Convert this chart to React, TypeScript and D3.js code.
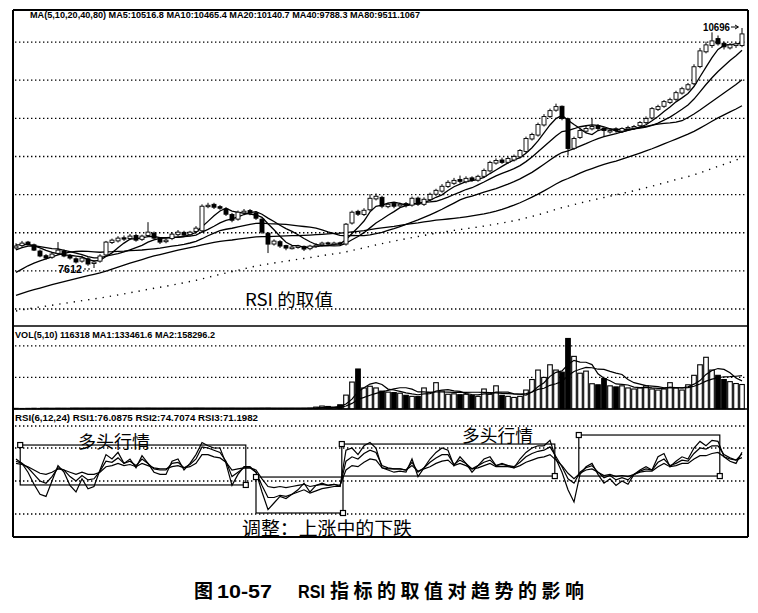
import React from 'react';
import * as d3 from 'd3';

// ---------- DATA ----------
const preCloses = [
  6800,6780,6820,6850,6830,6870,6900,6880,6850,6820,
  6790,6760,6780,6810,6840,6870,6900,6930,6910,6880,
  6850,6830,6860,6890,6920,6900,6870,6840,6820,6850,
  6880,6910,6890,6860,6830,6850,6880,6900,6870,6850,
  6870,6900,6930,6960,6940,6910,6930,6970,7000,6980,
  6950,6930,6960,6990,7020,7000,6970,6950,6980,7010,
  7050,7100,7080,7150,7200,7240,7280,7320,7360,7400,
  7550,7650,7720,7800,7880,7860,7920,7890,7940,7900];

const opens = [
  7870,7900,7945,7910,7830,7770,7750,7800,7830,7770,
  7730,7700,7730,7670,7700,7780,7940,7960,8000,7990,
  8030,7980,8030,8060,7990,7950,7990,8040,8070,8040,
  8080,8090,8400,8430,8400,8370,8300,8240,8320,8350,
  8320,8240,8060,7920,7950,7900,7860,7875,7890,7860,
  7890,7910,7935,7915,7935,7920,8190,8340,8300,8360,
  8500,8520,8400,8440,8410,8440,8420,8510,8430,8490,
  8560,8600,8660,8700,8750,8720,8770,8740,8790,8860,
  8960,9000,8970,9000,9040,9110,9270,9320,9450,9560,
  9640,9690,9530,9150,9290,9370,9400,9440,9410,9360,
  9400,9370,9400,9410,9440,9480,9540,9650,9690,9740,
  9780,9860,9910,9980,10200,10390,10470,10560,10500,10440,
  10470,10470];

const highs = [
  7930,7960,7960,7925,7850,7790,7820,7945,7850,7790,
  7750,7770,7750,7710,7790,7960,7990,8020,8030,8050,
  8050,8040,8201,8080,8010,7990,8070,8100,8090,8090,
  8150,8430,8450,8450,8420,8390,8320,8350,8370,8370,
  8340,8250,8070,7980,7970,7910,7900,7910,7900,7910,
  7930,7950,7950,7950,7950,8190,8350,8360,8380,8560,
  8570,8540,8450,8450,8450,8460,8530,8530,8520,8580,
  8630,8690,8740,8770,8800,8790,8790,8810,8890,8990,
  9020,9030,9040,9070,9140,9300,9350,9480,9590,9660,
  9724,9700,9540,9300,9400,9440,9530,9460,9420,9400,
  9420,9420,9440,9450,9500,9560,9680,9710,9770,9800,
  9890,9940,9990,10230,10440,10520,10640,10600,10520,10500,
  10510,10696];

const lows = [
  7850,7880,7900,7830,7750,7720,7730,7780,7750,7720,
  7670,7680,7640,7612,7680,7770,7920,7940,7960,7970,
  7950,7960,8010,7980,7920,7930,7970,8020,8010,8020,
  8060,8070,8380,8370,8360,8280,8200,8220,8300,8290,
  8230,8050,7804,7900,7870,7840,7850,7860,7830,7840,
  7870,7890,7900,7900,7900,7900,8170,8280,8280,8340,
  8480,8380,8380,8380,8390,8390,8400,8410,8410,8470,
  8540,8580,8640,8680,8700,8700,8720,8720,8770,8840,
  8940,8950,8950,8980,9020,9090,9250,9300,9430,9540,
  9620,9510,9058,9130,9270,9350,9380,9380,9300,9340,
  9350,9350,9380,9390,9420,9460,9520,9630,9670,9720,
  9760,9840,9890,9960,10180,10370,10440,10470,10420,10420,
  10440,10450];

const closes = [
  7894,7932,7919,7842,7766,7740,7791,7842,7766,7740,
  7689,7740,7663,7689,7766,7945,7970,7996,7983,8022,
  7970,8022,8073,7996,7945,7970,8047,8073,8034,8073,
  8124,8406,8418,8393,8380,8303,8226,8329,8342,8316,
  8252,8073,7919,7958,7894,7868,7881,7894,7855,7894,
  7906,7932,7919,7932,7919,8175,8329,8303,8354,8508,
  8534,8406,8431,8406,8431,8418,8508,8431,8495,8559,
  8610,8662,8713,8738,8726,8764,8738,8790,8866,8969,
  8994,8969,9020,9046,9122,9276,9327,9455,9558,9634,
  9686,9532,9148,9276,9378,9404,9430,9404,9378,9378,
  9378,9404,9417,9430,9481,9532,9660,9686,9750,9775,
  9865,9916,9967,10198,10402,10479,10530,10492,10454,10479,
  10492,10620];

const volumes = [
  3000,2500,3000,3500,2800,3000,2600,3200,3000,2800,
  3000,2700,3100,2900,3000,3300,3000,2800,3000,3200,
  3000,2900,3400,3000,2800,3000,3100,3000,2900,3000,
  3600,3400,3000,3100,3000,2900,3300,3000,2800,3000,
  3200,3500,3800,3000,2900,3000,3100,3000,3200,4000,
  9000,14000,12000,7000,20000,66000,128000,190000,100000,108000,
  100000,85000,80000,78000,75000,65000,60000,60000,100000,80000,
  125000,85000,70000,72000,68000,70000,65000,60000,95000,70000,
  110000,65000,60000,55000,60000,90000,140000,185000,150000,210000,
  185000,175000,335000,250000,170000,180000,120000,115000,145000,110000,
  105000,110000,100000,95000,100000,110000,95000,90000,95000,125000,
  100000,90000,115000,160000,210000,245654,185000,160000,140000,130000,
  120990,116318];

const rsi1 = [
  70,66,58,47,38,36,50,64,58,46,
  40,52,43,45,60,74,70,76,66,70,
  62,73,66,58,56,56,68,70,60,66,
  74,85,82,80,80,66,46,56,63,63,
  58,40,24,30,36,34,38,42,48,40,
  46,48,46,47,45,78,80,74,82,85,
  80,62,60,58,59,58,70,54,62,70,
  76,80,78,64,72,66,58,64,70,72,
  64,66,64,62,70,76,80,82,82,87,
  70,58,42,31,56,63,66,56,48,52,
  46,50,47,56,60,63,60,72,75,63,
  68,72,70,80,86,82,87,86,72,68,
  66,76.09];

const rsi2 = [
  68,66,62,56,50,48,54,62,60,54,
  50,55,51,52,59,68,67,71,66,68,
  64,70,66,61,60,60,66,67,62,65,
  70,81,80,78,76,68,54,58,62,62,
  58,46,35,35,37,36,38,40,42,39,
  41,43,44,45,45,68,72,70,75,78,
  76,64,62,61,61,60,67,58,62,67,
  71,74,74,65,69,66,61,64,67,69,
  64,65,64,63,67,72,75,77,78,81,
  72,63,52,48,58,62,64,58,53,55,
  51,53,51,56,59,61,60,67,70,64,
  66,69,68,75,80,79,82,82,74,71,
  69,74.71];

const rsi3 = [
  66,65,63,60,57,56,58,61,60,58,
  56,58,56,56,58,63,64,66,64,65,
  63,66,64,62,61,61,63,64,62,63,
  66,74,74,72,71,67,60,61,62,62,
  60,52,45,44,45,44,45,46,47,45,
  46,47,46,47,46,60,64,63,67,70,
  69,62,61,61,61,60,64,59,61,63,
  66,68,69,64,66,64,61,62,64,66,
  63,63,63,62,64,67,69,71,72,74,
  69,64,57,52,57,60,61,58,55,56,
  54,55,54,56,58,59,59,63,66,63,
  64,66,66,70,73,73,75,76,72,70,
  69,71.2];

const maPeriods = [5, 10, 20, 40, 80];
const volMaPeriods = [5, 10];
const priceGrid = [7085, 7575, 8065, 8555, 9045, 9535, 10025, 10515];
const volGrid = [150000, 300000];
const rsiGrid = [20, 50, 80, 100];

// RSI trend boxes: start index, end index, upper RSI, lower RSI
const boxStart = [0.7, 40, 54.3, 93.8];
const boxEnd = [38.3, 54.5, 89.8, 117.3];
const boxHigh = [82.7, 53.6, 83.6, 91.8];
const boxLow = [46.4, 20.9, 54.5, 54.5];

const mainHeader = 'MA(5,10,20,40,80) MA5:10516.8 MA10:10465.4 MA20:10140.7 MA40:9788.3 MA80:9511.1067';
const volHeader = 'VOL(5,10) 116318 MA1:133461.6 MA2:158296.2';
const rsiHeader = 'RSI(6,12,24) RSI1:76.0875 RSI2:74.7074 RSI3:71.1982';
const highLabel = '10696';
const lowLabel = '7612';
const titleText = 'RSI 的取值';
const bullText = '多头行情';
const adjustText = '调整：上涨中的下跌';
const captionA = '图';
const captionB = '10-57';
const captionC = 'RSI';
const captionD = '指标的取值对趋势的影响';

// ---------- LAYOUT ----------
const W = 758, H = 613;
const L = 13, R = 748, T = 10, MB = 326, VB = 409, RB = 537;
const N = closes.length;

const xs = d3.scaleLinear().domain([0, N - 1]).range([16, 742]);
const yP = d3.scaleLinear().domain([7612, 10696]).range([268, 28]);
const yV = d3.scaleLinear().domain([0, 394250]).range([VB, MB]);
const yR = d3.scaleLinear().domain([0, 100]).range([536, 426]);

const allCloses = preCloses.concat(closes);
const P0 = preCloses.length;
const maSeries = maPeriods.map(p =>
  closes.map((_, i) => d3.mean(allCloses.slice(P0 + i - p + 1, P0 + i + 1)) as number));
const volMa = volMaPeriods.map(p =>
  volumes.map((_, i) => (i >= p - 1 ? (d3.mean(volumes.slice(i - p + 1, i + 1)) as number) : NaN)));

const priceLine = d3.line<number>().x((_, i) => xs(i)).y(d => yP(d));
const volLine = d3.line<number>().defined(d => !isNaN(d)).x((_, i) => xs(i)).y(d => yV(d));
const rsiLine = d3.line<number>().x((_, i) => xs(i)).y(d => yR(d));

const SANS = '"Liberation Sans", Arial, sans-serif';
const CJK = '"Noto Sans CJK SC", sans-serif';

export default function App() {
  const dotted = { stroke: '#000', strokeWidth: 1.3, strokeDasharray: '1.4,2.6' } as const;
  return (
    <svg width={W} height={H} style={{ position: 'absolute', left: 0, top: 0, background: '#fff' }}
      xmlns="http://www.w3.org/2000/svg">
      <rect x={0} y={0} width={W} height={H} fill="#fff" />

      {/* grid lines */}
      {priceGrid.map((g, k) => (
        <line key={'pg' + k} x1={L + 2} x2={R - 1} y1={yP(g)} y2={yP(g)} {...dotted} />
      ))}
      {volGrid.map((g, k) => (
        <line key={'vg' + k} x1={L + 2} x2={R - 1} y1={yV(g)} y2={yV(g)} {...dotted} />
      ))}
      {rsiGrid.map((g, k) => (
        <line key={'rg' + k} x1={L + 2} x2={R - 1} y1={yR(g)} y2={yR(g)} {...dotted} />
      ))}

      {/* moving averages */}
      {maSeries.map((s, k) => (
        <path key={'ma' + k} d={priceLine(s) || ''} fill="none" stroke="#000"
          strokeWidth={k === 4 ? 1.4 : 1.3}
          strokeDasharray={k === 4 ? '1.3,6' : undefined} />
      ))}

      {/* candles */}
      {closes.map((c, i) => {
        const o = opens[i];
        const up = c >= o;
        const top = yP(Math.max(o, c));
        const h = Math.max(1, Math.abs(yP(o) - yP(c)));
        return (
          <g key={'c' + i}>
            <line x1={xs(i)} x2={xs(i)} y1={yP(highs[i])} y2={yP(lows[i])} stroke="#000" strokeWidth={1} />
            <rect x={xs(i) - 2} y={top} width={4} height={h} fill={up ? '#fff' : '#000'} stroke="#000" strokeWidth={0.9} />
          </g>
        );
      })}

      {/* high / low labels */}
      <text x={703} y={31} fontFamily={SANS} fontSize={10} fontWeight="bold" textLength={27} lengthAdjust="spacingAndGlyphs">{highLabel}</text>
      <line x1={731} x2={738} y1={27} y2={27} stroke="#000" strokeWidth={1} />
      <path d="M735,25 L738.5,27 L735,29" fill="none" stroke="#000" strokeWidth={1} />
      <text x={58} y={273} fontFamily={SANS} fontSize={10} fontWeight="bold" textLength={24} lengthAdjust="spacingAndGlyphs">{lowLabel}</text>
      <line x1={84} x2={91} y1={269} y2={269} stroke="#000" strokeWidth={1} strokeDasharray="2,2" />

      {/* volume bars */}
      {volumes.map((v, i) => {
        const up = closes[i] >= opens[i];
        const y = yV(v);
        return (
          <rect key={'v' + i} x={xs(i) - 2.3} y={y} width={4.6} height={Math.max(0.5, VB - y)}
            fill={up ? '#fff' : '#000'} stroke="#000" strokeWidth={1.1} />
        );
      })}
      {volMa.map((s, k) => (
        <path key={'vm' + k} d={volLine(s) || ''} fill="none" stroke="#000" strokeWidth={1.2} />
      ))}

      {/* RSI lines */}
      {[rsi1, rsi2, rsi3].map((s, k) => (
        <path key={'r' + k} d={rsiLine(s) || ''} fill="none" stroke="#000" strokeWidth={1.2} />
      ))}

      {/* RSI boxes */}
      {boxStart.map((s, k) => {
        const x0 = xs(s), x1 = xs(boxEnd[k]);
        const y0 = yR(boxHigh[k]), y1 = yR(boxLow[k]);
        return (
          <g key={'b' + k}>
            <rect x={x0} y={y0} width={x1 - x0} height={y1 - y0} fill="none" stroke="#000" strokeWidth={1.2} />
            <rect x={x0 - 2.5} y={y0 - 2.5} width={5} height={5} fill="#fff" stroke="#000" strokeWidth={1.2} />
            <rect x={x1 - 2.5} y={y1 - 2.5} width={5} height={5} fill="#fff" stroke="#000" strokeWidth={1.2} />
          </g>
        );
      })}

      {/* frame */}
      <line x1={L} x2={R} y1={T} y2={T} stroke="#000" strokeWidth={2} />
      <line x1={L} x2={L} y1={T} y2={RB} stroke="#000" strokeWidth={2} />
      <line x1={R} x2={R} y1={T} y2={RB} stroke="#000" strokeWidth={2} />
      <line x1={L} x2={R} y1={RB} y2={RB} stroke="#000" strokeWidth={2} />
      <line x1={L} x2={R} y1={MB} y2={MB} stroke="#000" strokeWidth={1.5} />
      <line x1={L} x2={R} y1={VB} y2={VB} stroke="#000" strokeWidth={1.5} />

      {/* panel headers */}
      <text x={30} y={18} fontFamily={SANS} fontSize={9} fontWeight="bold" textLength={390} lengthAdjust="spacingAndGlyphs">{mainHeader}</text>
      <text x={15} y={338} fontFamily={SANS} fontSize={9} fontWeight="bold" textLength={200} lengthAdjust="spacingAndGlyphs">{volHeader}</text>
      <text x={15} y={421} fontFamily={SANS} fontSize={9} fontWeight="bold" textLength={243} lengthAdjust="spacingAndGlyphs">{rsiHeader}</text>

      {/* annotations */}
      <text x={245} y={306} fontFamily={CJK} fontSize={17} textLength={88} lengthAdjust="spacingAndGlyphs">{titleText}</text>
      <text x={78} y={448} fontFamily={CJK} fontSize={17} textLength={72} lengthAdjust="spacingAndGlyphs">{bullText}</text>
      <text x={462} y={442} fontFamily={CJK} fontSize={17} textLength={71} lengthAdjust="spacingAndGlyphs">{bullText}</text>
      <text x={242} y={535} fontFamily={CJK} fontSize={18} textLength={170} lengthAdjust="spacingAndGlyphs">{adjustText}</text>

      {/* caption */}
      <text x={194} y={598} fontFamily={CJK} fontSize={19} fontWeight="bold">{captionA}</text>
      <text x={217} y={598} fontFamily={SANS} fontSize={19} fontWeight="bold" textLength={55} lengthAdjust="spacingAndGlyphs">{captionB}</text>
      <text x={298} y={598} fontFamily={SANS} fontSize={19} fontWeight="bold" textLength={27} lengthAdjust="spacingAndGlyphs">{captionC}</text>
      <text x={330} y={598} fontFamily={CJK} fontSize={19} fontWeight="bold" textLength={254} lengthAdjust="spacing">{captionD}</text>
    </svg>
  );
}
